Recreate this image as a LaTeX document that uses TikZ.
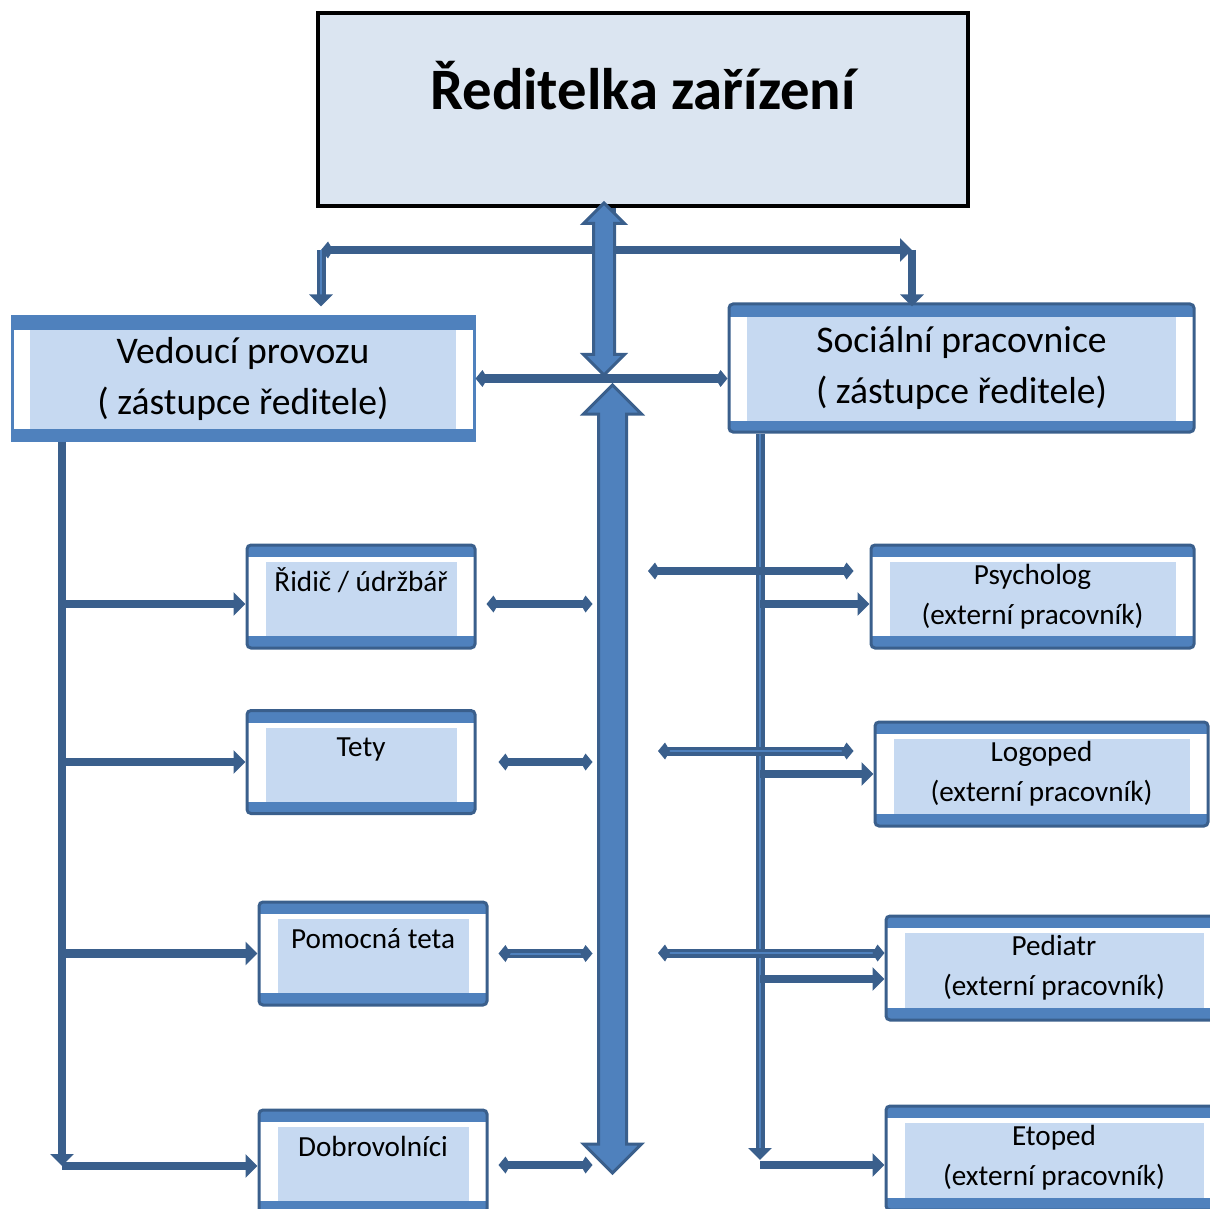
\documentclass[tikz,border=0pt]{standalone}
\usepackage{fontspec}
\setmainfont{Carlito}
\usetikzlibrary{arrows.meta,calc,positioning,shapes.arrows}
\definecolor{orgline}{HTML}{3A5F8C}
\definecolor{orgband}{HTML}{4F81BD}
\definecolor{orgfill}{HTML}{C6D9F1}
\definecolor{orgtop}{HTML}{DBE5F1}
\tikzset{
  link/.style={draw=orgline,line width=0.85mm},
  feed/.style={link,-{Triangle[length=1.2mm,width=2.3mm]}},
  twoway/.style={link,{Kite[length=1.2mm,width=1.7mm,inset=0.5mm]}-{Kite[length=1.2mm,width=1.7mm,inset=0.5mm]}},
  twin/.style={double=orgband,double distance=0.2mm,line width=0.35mm},
  topbox/.style={draw=black,line width=0.35mm,fill=orgtop,minimum width=65mm,minimum height=19.3mm,
    font=\bfseries\fontsize{16.7}{20}\selectfont,text height=5mm,text depth=5mm},
  headbox/.style={line width=0.3mm,fill=white,minimum width=46.2mm,minimum height=12.3mm,
    inner sep=0pt,align=center,font=\fontsize{10.7}{14.5}\selectfont,
    path picture={
      \fill[orgband,sharp corners] (path picture bounding box.north west) rectangle ([yshift=-1.3mm]path picture bounding box.north east);
      \fill[orgband,sharp corners] (path picture bounding box.south west) rectangle ([yshift=1.1mm]path picture bounding box.south east);
      \fill[orgfill,sharp corners] ([xshift=1.8mm,yshift=-1.3mm]path picture bounding box.north west) rectangle ([xshift=-1.8mm,yshift=1.1mm]path picture bounding box.south east);
    }},
  staffbox/.style={draw=orgline,line width=0.3mm,rounded corners=0.4mm,fill=white,
    minimum width=22.8mm,minimum height=10.3mm,inner sep=0pt,align=center,
    font=\fontsize{8.3}{11.4}\selectfont,
    path picture={
      \fill[orgband,sharp corners] (path picture bounding box.north west) rectangle ([yshift=-1.2mm]path picture bounding box.north east);
      \fill[orgband,sharp corners] (path picture bounding box.south west) rectangle ([yshift=1.2mm]path picture bounding box.south east);
      \fill[orgfill,sharp corners] ([xshift=1.9mm,yshift=-1.7mm]path picture bounding box.north west) rectangle ([xshift=-1.8mm,yshift=1.2mm]path picture bounding box.south east);
    }},
  solo/.style={staffbox,text height=2.5mm,text depth=3.6mm},
  spine/.style={double arrow,draw=orgline,fill=orgband,line width=0.3mm,inner xsep=0pt,rotate=90},
}
\begin{document}
\begin{tikzpicture}[x=0.1mm,y=-0.1mm]
  \useasboundingbox (0,0) rectangle (1209,1209);
  % boxes
  \node[topbox] (reditelka) at (643,109.5) {Ředitelka zařízení};
  \node[headbox,draw=orgband] (vedouci) at (243,378.5) {Vedoucí provozu\\( zástupce ředitele)};
  \node[headbox,draw=orgline,rounded corners=0.4mm,minimum width=46.5mm,minimum height=12.8mm] (socialni) at (961.5,368) {Sociální pracovnice\\( zástupce ředitele)};
  \node[solo] (ridic) at (361,596.5) {Řidič / údržbář};
  \node[solo] (tety) at (361,762) {Tety};
  \node[solo] (pomocna) at (373,953.5) {Pomocná teta};
  \node[solo] (dobrov) at (373,1161.5) {Dobrovolníci};
  \node[staffbox,minimum width=32.3mm] (psycholog) at (1032.5,596.5) {Psycholog\\(externí pracovník)};
  \node[staffbox,minimum width=33.3mm,minimum height=10.4mm] (logoped) at (1041.5,774) {Logoped\\(externí pracovník)};
  \node[staffbox,minimum width=33.6mm,minimum height=10.4mm] (pediatr) at (1054,968) {Pediatr\\(externí pracovník)};
  \node[staffbox,minimum width=33.6mm,minimum height=10.4mm] (etoped) at (1054,1158) {Etoped\\(externí pracovník)};
  \coordinate (lbus) at (62,1166);
  \coordinate (rbus) at (760,1160);
  \coordinate (tl) at (321,250);
  \coordinate (tr) at (912,250);
  \coordinate (upper) at (604,289);
  \coordinate (lower) at (612.5,779);
  % top distribution line
  \draw[link] ([xshift=-3.1mm]reditelka.south) -- ([xshift=-3.1mm]reditelka.south |- tl);
  \draw[link,{Kite[length=1.2mm,width=1.7mm,inset=0.5mm]}-{Triangle[length=1.2mm,width=2.3mm]}] (tl) -- (tr);
  \draw[feed,twin] (tl) -- ([yshift=0.9mm]tl |- vedouci.north);
  \draw[feed] (tr) -- ([yshift=-0.4mm]tr |- socialni.north);
  \draw[twoway] (vedouci.east) -- (vedouci.east -| socialni.west);
  % left trunk
  \draw[feed] (vedouci.south -| lbus) -- (lbus);
  \foreach \n/\dy in {ridic/-0.75mm,tety/0mm,pomocna/0mm,dobrov/-0.45mm}
    \draw[feed] ([yshift=\dy]\n.west -| lbus) -- ([yshift=\dy]\n.west);
  % right trunk
  \draw[feed,twin] (socialni.south -| rbus) -- (rbus);
  \foreach \n/\dy in {psycholog/-0.75mm,logoped/0mm,pediatr/-1.1mm,etoped/-0.7mm}
    \draw[feed] ([yshift=\dy]\n.west -| rbus) -- ([yshift=\dy]\n.west);
  % links to the spine
  \draw[twoway] ([xshift=1mm,yshift=-0.75mm]ridic.east) -- ([xshift=-2mm,yshift=-0.75mm]ridic.east -| lower);
  \draw[twoway] ([xshift=2.2mm]tety.east) -- ([xshift=-2mm]tety.east -| lower);
  \draw[twoway,twin] ([xshift=1mm]pomocna.east) -- ([xshift=-2mm]pomocna.east -| lower);
  \draw[twoway] ([xshift=1mm,yshift=-0.35mm]dobrov.east) -- ([xshift=-2mm,yshift=-0.35mm]dobrov.east -| lower);
  \draw[twoway] ([xshift=3.55mm,yshift=2.55mm]psycholog.west -| lower) -- ([xshift=-1.6mm,yshift=2.55mm]psycholog.west);
  \draw[twoway,twin] ([xshift=4.55mm,yshift=2.3mm]logoped.west -| lower) -- ([xshift=-2mm,yshift=2.3mm]logoped.west);
  \draw[twoway,twin] ([xshift=4.55mm,yshift=1.5mm]pediatr.west -| lower) -- ([yshift=1.5mm]pediatr.west);
  % spine arrows on top
  \node[spine,minimum height=17.2mm,inner ysep=0.9mm,double arrow head extend=1mm] (upperspine) at (upper) {};
  \node[spine,minimum height=78.8mm,inner ysep=1.25mm,double arrow head extend=1.5mm] (lowerspine) at (lower) {};
\end{tikzpicture}
\end{document}
